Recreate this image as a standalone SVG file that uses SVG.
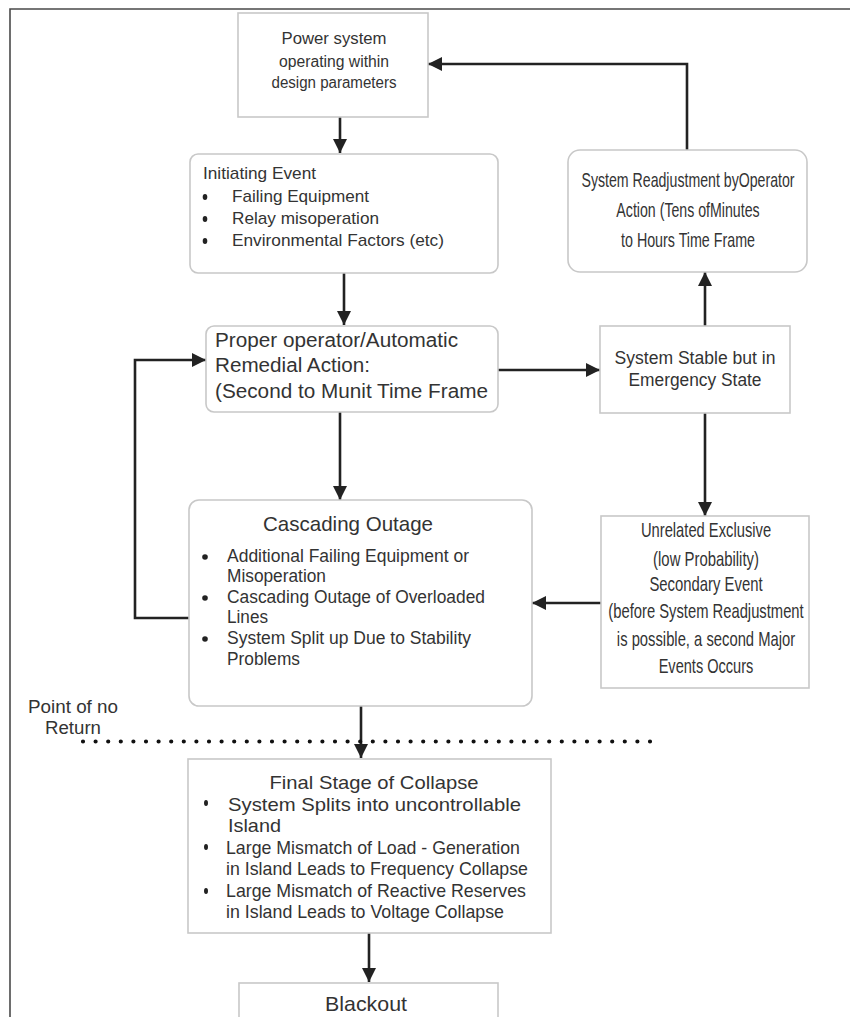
<svg xmlns="http://www.w3.org/2000/svg" width="850" height="1017" viewBox="0 0 850 1017">
<defs>
<marker id="ah" markerUnits="userSpaceOnUse" markerWidth="15" markerHeight="15" refX="14" refY="7" orient="auto">
<path d="M0,0 L14,7 L0,14 z" fill="#222"/>
</marker>
<style>
.box{fill:#fff;stroke:#c8c8c8;stroke-width:1.6}
.t{font-family:"Liberation Sans",Arial,sans-serif;fill:#333}
.c{stroke:#222;stroke-width:2.6;fill:none;marker-end:url(#ah)}
.b{fill:#222}
</style>
</defs>
<rect width="850" height="1017" fill="#fff"/>
<path d="M850,9 H10 V1017" fill="none" stroke="#4a4a4a" stroke-width="1.6"/>

<g id="connectors">
<line class="c" x1="340" y1="117" x2="340" y2="153"/>
<line class="c" x1="344" y1="273" x2="344" y2="325"/>
<line class="c" x1="340" y1="412" x2="340" y2="500"/>
<polyline class="c" points="189,618 135,618 135,360 206,360"/>
<line class="c" x1="498" y1="370" x2="600" y2="370"/>
<line class="c" x1="705" y1="326" x2="705" y2="272"/>
<polyline class="c" points="687,150 687,64 428,64"/>
<line class="c" x1="705" y1="413" x2="705" y2="516"/>
<line class="c" x1="601" y1="603" x2="532" y2="603"/>
<line class="c" x1="361" y1="706" x2="361" y2="758"/>
<line class="c" x1="369" y1="933" x2="369" y2="982"/>
</g>

<g id="point-of-no-return">
<line x1="83" y1="741.5" x2="660" y2="741.5" stroke="#111" stroke-width="4.2" stroke-linecap="round" stroke-dasharray="0 12.6"/>
<text class="t" font-size="18" text-anchor="middle" x="73" y="713" textLength="90" lengthAdjust="spacingAndGlyphs">Point of no</text>
<text class="t" font-size="18" text-anchor="middle" x="73" y="734" textLength="56" lengthAdjust="spacingAndGlyphs">Return</text>
</g>

<g id="n1">
<rect class="box" x="238" y="13" width="190" height="104"/>
<g class="t" font-size="16" text-anchor="middle">
<text x="334" y="44" textLength="105" lengthAdjust="spacingAndGlyphs">Power system</text>
<text x="334" y="67" textLength="110" lengthAdjust="spacingAndGlyphs">operating within</text>
<text x="334" y="88" textLength="125" lengthAdjust="spacingAndGlyphs">design parameters</text>
</g>
</g>

<g id="n2">
<rect class="box" x="190" y="154" width="308" height="119" rx="8"/>
<g class="t" font-size="17">
<text x="203" y="179" textLength="113" lengthAdjust="spacingAndGlyphs">Initiating Event</text>
<text x="232" y="202" textLength="137" lengthAdjust="spacingAndGlyphs">Failing Equipment</text>
<text x="232" y="224" textLength="147" lengthAdjust="spacingAndGlyphs">Relay misoperation</text>
<text x="232" y="246" textLength="212" lengthAdjust="spacingAndGlyphs">Environmental Factors (etc)</text>
</g>
<ellipse class="b" cx="205" cy="197" rx="2.3" ry="3"/>
<ellipse class="b" cx="205" cy="219" rx="2.3" ry="3"/>
<ellipse class="b" cx="205" cy="241" rx="2.3" ry="3"/>
</g>

<g id="n3">
<rect class="box" x="206" y="326" width="292" height="86" rx="8"/>
<g class="t" font-size="20">
<text x="215" y="347" textLength="243" lengthAdjust="spacingAndGlyphs">Proper operator/Automatic</text>
<text x="215" y="372" textLength="155" lengthAdjust="spacingAndGlyphs">Remedial Action:</text>
<text x="215" y="398" textLength="273" lengthAdjust="spacingAndGlyphs">(Second to Munit Time Frame</text>
</g>
</g>

<g id="n4">
<rect class="box" x="189" y="500" width="343" height="206" rx="10"/>
<text class="t" font-size="21" text-anchor="middle" x="348" y="531" textLength="170" lengthAdjust="spacingAndGlyphs">Cascading Outage</text>
<g class="t" font-size="17.5">
<text x="227" y="562" textLength="242" lengthAdjust="spacingAndGlyphs">Additional Failing Equipment or</text>
<text x="227" y="582" textLength="99" lengthAdjust="spacingAndGlyphs">Misoperation</text>
<text x="227" y="603" textLength="258" lengthAdjust="spacingAndGlyphs">Cascading Outage of Overloaded</text>
<text x="227" y="623" textLength="41" lengthAdjust="spacingAndGlyphs">Lines</text>
<text x="227" y="644" textLength="244" lengthAdjust="spacingAndGlyphs">System Split up Due to Stability</text>
<text x="227" y="665" textLength="73" lengthAdjust="spacingAndGlyphs">Problems</text>
</g>
<circle class="b" cx="205" cy="557" r="2.8"/>
<circle class="b" cx="205" cy="598" r="2.8"/>
<circle class="b" cx="205" cy="639" r="2.8"/>
</g>

<g id="n5">
<rect class="box" x="600" y="326" width="190" height="87"/>
<g class="t" font-size="17.5" text-anchor="middle">
<text x="695" y="364" textLength="161" lengthAdjust="spacingAndGlyphs">System Stable but in</text>
<text x="695" y="386" textLength="133" lengthAdjust="spacingAndGlyphs">Emergency State</text>
</g>
</g>

<g id="n6">
<rect class="box" x="568" y="150" width="239" height="122" rx="12"/>
<g class="t" font-size="20" text-anchor="middle" transform="translate(688,0) scale(0.72,1)">
<text x="0" y="187" textLength="296" lengthAdjust="spacingAndGlyphs">System Readjustment byOperator</text>
<text x="0" y="217" textLength="199" lengthAdjust="spacingAndGlyphs">Action (Tens ofMinutes</text>
<text x="0" y="247" textLength="186" lengthAdjust="spacingAndGlyphs">to Hours Time Frame</text>
</g>
</g>

<g id="n7">
<rect class="box" x="601" y="516" width="208" height="172"/>
<g class="t" font-size="20" text-anchor="middle" transform="translate(706,0) scale(0.74,1)">
<text x="0" y="537" textLength="176" lengthAdjust="spacingAndGlyphs">Unrelated Exclusive</text>
<text x="0" y="566" textLength="143" lengthAdjust="spacingAndGlyphs">(low Probability)</text>
<text x="0" y="591" textLength="153" lengthAdjust="spacingAndGlyphs">Secondary Event</text>
<text x="0" y="618" textLength="264" lengthAdjust="spacingAndGlyphs">(before System Readjustment</text>
<text x="0" y="646" textLength="241" lengthAdjust="spacingAndGlyphs">is possible, a second Major</text>
<text x="0" y="673" textLength="128" lengthAdjust="spacingAndGlyphs">Events Occurs</text>
</g>
</g>

<g id="n8">
<rect class="box" x="188" y="759" width="363" height="174"/>
<text class="t" font-size="19" text-anchor="middle" x="374" y="789" textLength="209" lengthAdjust="spacingAndGlyphs">Final Stage of Collapse</text>
<g class="t" font-size="19">
<text x="228" y="811" textLength="293" lengthAdjust="spacingAndGlyphs">System Splits into uncontrollable</text>
<text x="228" y="832" textLength="53" lengthAdjust="spacingAndGlyphs">Island</text>
<text x="226" y="854" textLength="294" lengthAdjust="spacingAndGlyphs">Large Mismatch of Load - Generation</text>
<text x="226" y="875" textLength="302" lengthAdjust="spacingAndGlyphs">in Island Leads to Frequency Collapse</text>
<text x="226" y="897" textLength="300" lengthAdjust="spacingAndGlyphs">Large Mismatch of Reactive Reserves</text>
<text x="226" y="918" textLength="278" lengthAdjust="spacingAndGlyphs">in Island Leads to Voltage Collapse</text>
</g>
<ellipse class="b" cx="206" cy="803" rx="2" ry="3"/>
<ellipse class="b" cx="206" cy="847" rx="2" ry="3"/>
<ellipse class="b" cx="206" cy="891" rx="2" ry="3"/>
</g>

<g id="n9">
<rect class="box" x="239" y="983" width="259" height="50"/>
<text class="t" font-size="21" text-anchor="middle" x="366" y="1011" textLength="82" lengthAdjust="spacingAndGlyphs">Blackout</text>
</g>
</svg>
